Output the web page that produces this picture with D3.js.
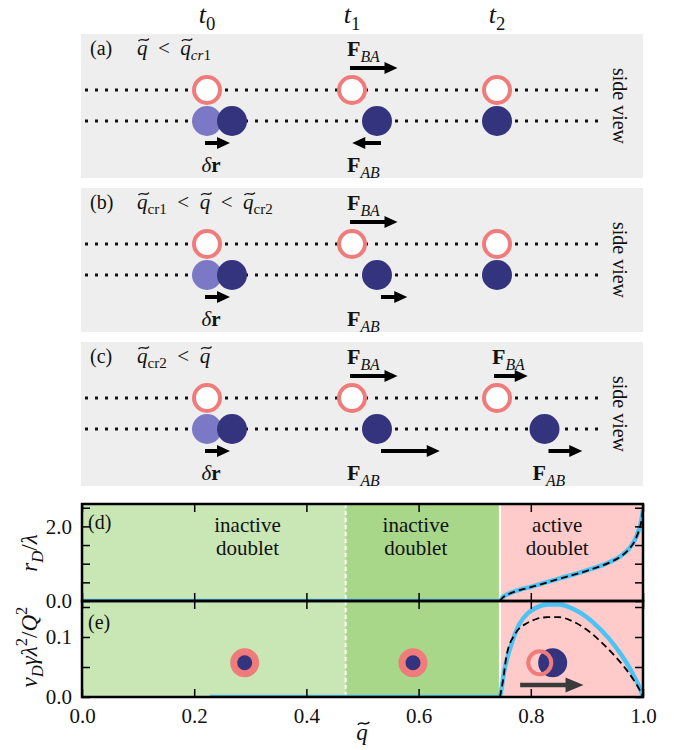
<!DOCTYPE html>
<html>
<head>
<meta charset="utf-8">
<script src="https://cdn.jsdelivr.net/npm/d3@7"></script>
<style>
  html, body { margin: 0; padding: 0; background: #fff; }
  svg { display: block; }
  text { font-family: "Liberation Serif", "Times New Roman", serif; fill: #111; }
</style>
</head>
<body>
<svg id="fig" width="674" height="750"></svg>
<script>
// ---------------- schematic (a)-(c) ----------------
const timeSteps = ['0', '1', '2'];
const panelIds = ['(a)', '(b)', '(c)'];
const conditionText = [
  [{s: 'q', i: 1, tilde: 1}, {s: '\u2002<\u2002'}, {s: 'q', i: 1, tilde: 1}, {s: 'cr', i: 1, sub: 1}, {s: '1', sub: 1}],
  [{s: 'q', i: 1, tilde: 1}, {s: 'cr1', sub: 1}, {s: '\u2002<\u2002'}, {s: 'q', i: 1, tilde: 1},
   {s: '\u2002<\u2002'}, {s: 'q', i: 1, tilde: 1}, {s: 'cr2', sub: 1}],
  [{s: 'q', i: 1, tilde: 1}, {s: 'cr2', sub: 1}, {s: '\u2002<\u2002'}, {s: 'q', i: 1, tilde: 1}]
];
// position of particle B relative to A, in units of the initial kick δr, at t0, t1, t2
const bOffset = [[1, 1, 0], [1, 1, 0], [1, 1, 1.9]];
// force on A (F_BA) and on B (F_AB) at t1 and t2, in the same units (0 = no arrow)
const forceBA = [[1.9, 0], [1.9, 0], [1.9, 1.35]];
const forceAB = [[-1.15, 0], [1.05, 0], [2.35, 1.35]];

// ---------------- plots (d), (e) ----------------
const qTicks = [0, 0.2, 0.4, 0.6, 0.8, 1.0];
const rTicks = [0, 0.5, 1.0, 1.5, 2.0, 2.5];
const rTickLabels = [0, 2.0];
const vTicks = [0, 0.05, 0.1, 0.15];
const vTickLabels = [0, 0.1];
const qCr1 = 0.47;
const qCr2 = 0.745;

// doublet separation r_D / lambda
const rSimQ = [0, 0.745, 0.75, 0.76, 0.78, 0.80, 0.85, 0.90, 0.94, 0.96, 0.975, 0.985, 0.992, 0.997, 1.0];
const rSimV = [0, 0, 0.1, 0.19, 0.3, 0.38, 0.6, 0.82, 1.04, 1.2, 1.4, 1.62, 1.88, 2.15, 2.45];
const rTheoQ = [0.745, 0.75, 0.76, 0.78, 0.80, 0.85, 0.90, 0.94, 0.96, 0.975, 0.985, 0.992, 0.997, 1.0];
const rTheoV = [0, 0.09, 0.18, 0.29, 0.37, 0.59, 0.81, 1.03, 1.19, 1.39, 1.6, 1.86, 2.13, 2.45];
// doublet velocity v_D gamma lambda^2 / Q^2
const vSimQ = [0.228, 0.745, 0.748, 0.752, 0.758, 0.768, 0.78, 0.795, 0.81, 0.83, 0.85, 0.875, 0.9, 0.925, 0.95, 0.97, 0.985, 0.995, 1.0];
const vSimV = [0, 0, 0.015, 0.04, 0.065, 0.095, 0.122, 0.14, 0.149, 0.154, 0.154, 0.147, 0.133, 0.112, 0.085, 0.058, 0.033, 0.013, 0];
const vTheoQ = [0.745, 0.75, 0.757, 0.772, 0.793, 0.81, 0.83, 0.85, 0.875, 0.9, 0.925, 0.95, 0.97, 0.985, 0.995, 1.0];
const vTheoV = [0, 0.025, 0.07, 0.105, 0.123, 0.13, 0.133, 0.133, 0.126, 0.112, 0.092, 0.068, 0.046, 0.026, 0.01, 0];

const phaseNames = [['inactive', 'doublet'], ['inactive', 'doublet'], ['active', 'doublet']];
const phaseLabelQ = [0.295, 0.595, 0.847];

// ---------------- drawing ----------------
const INK = '#111';
const RED = '#f07b7b', BLUE_DARK = '#34347e', BLUE_LIGHT = '#7b78c6', PANEL_BG = '#eeeeee';
const GREEN_LIGHT = '#c8e7b4', GREEN_MID = '#a9d78a', PINK = '#ffcaca', SKY = '#4cc3f5';

const svg = d3.select('#fig');

// text with italic / bold runs, sub- and superscripts and wide tildes
function mathText(parent, x, y, parts, opt = {}) {
  const size = opt.size || 21, sc = opt.subScale || 0.72;
  const t = parent.append('text').attr('x', x).attr('y', y)
    .attr('text-anchor', opt.anchor || 'start').style('font-size', size + 'px');
  let level = 0, idx = 0;
  const marks = [];
  parts.forEach(p => {
    const target = p.sub ? size * 0.26 : p.sup ? -size * 0.42 : 0;
    const ts = t.append('tspan').text(p.s).attr('dy', target - level)
      .style('font-size', (p.sub || p.sup ? size * sc : size) + 'px');
    level = target;
    if (p.i) ts.style('font-style', 'italic');
    if (p.b) ts.style('font-weight', 'bold');
    if (p.tilde) marks.push(idx);
    idx += p.s.length;
  });
  const node = t.node();
  marks.forEach(i => {
    const a = node.getStartPositionOfChar(i), b = node.getEndPositionOfChar(i);
    const cx = (a.x + b.x) / 2 + size * 0.07, cy = a.y - size * 0.72;
    const w = size * 0.5, h = size * 0.06;
    parent.append('path')
      .attr('d', `M${cx - w / 2},${cy + h} C${cx - w / 6},${cy - h * 2.6} ${cx + w / 6},${cy + h * 2.6} ${cx + w / 2},${cy - h}`)
      .attr('fill', 'none').attr('stroke', INK).attr('stroke-width', size * 0.065);
  });
  return t;
}

function arrowD(x0, x1, y, shaft = 4, head = 13, half = 6) {
  const dir = Math.sign(x1 - x0) || 1;
  const xb = x1 - dir * head;
  return `M${x0},${y - shaft / 2}L${xb},${y - shaft / 2}L${xb},${y - half}L${x1},${y}` +
         `L${xb},${y + half}L${xb},${y + shaft / 2}L${x0},${y + shaft / 2}Z`;
}

const F = sub => [{s: 'F', b: 1}, {s: sub, i: 1, sub: 1}];

const panelY = d3.scaleBand().domain(panelIds).range([34, 486]).paddingInner(0.065);
const colX = d3.scalePoint().domain(timeSteps).range([207, 497]);
const shift = d3.scaleLinear().domain([0, 1]).range([0, 25]);

timeSteps.forEach(t =>
  mathText(svg, colX(t), 23, [{s: 't', i: 1}, {s: t, sub: 1}], {size: 26, anchor: 'middle'}));

panelIds.forEach((id, k) => {
  const top = panelY(id), h = panelY.bandwidth();
  const g = svg.append('g');
  g.append('rect').attr('x', 81).attr('y', top).attr('width', 562).attr('height', h).attr('fill', PANEL_BG);
  const yA = top + 56, yB = top + 87;
  [yA, yB].forEach(y => g.append('line').attr('x1', 85).attr('x2', 604).attr('y1', y).attr('y2', y)
    .attr('stroke', INK).attr('stroke-width', 3).attr('stroke-dasharray', '3,7'));

  mathText(g, 90, top + 21, [{s: id}], {size: 20});
  mathText(g, 137, top + 21, conditionText[k], {size: 21});

  g.append('g').attr('transform', `translate(613,${top + h / 2}) rotate(90)`)
    .append('text').attr('text-anchor', 'middle').style('font-size', '20px').text('side view');

  // initial position of B before the kick
  g.append('circle').attr('cx', colX('0')).attr('cy', yB).attr('r', 15).attr('fill', BLUE_LIGHT);
  timeSteps.forEach((t, j) => {
    const cx = colX(t);
    g.append('circle').attr('cx', cx + shift(bOffset[k][j])).attr('cy', yB).attr('r', 15).attr('fill', BLUE_DARK);
    g.append('circle').attr('cx', cx).attr('cy', yA).attr('r', 13)
      .attr('fill', '#fff').attr('stroke', RED).attr('stroke-width', 4);
  });

  // kick δr
  const yLow = top + 109, yHigh = top + 34;
  g.append('path').attr('d', arrowD(colX('0') - 2, colX('0') - 2 + shift(1), yLow)).attr('fill', '#000');
  mathText(g, colX('0') + 4, top + 138, [{s: 'δ', i: 1}, {s: 'r', b: 1}], {size: 21, anchor: 'middle'});

  ['1', '2'].forEach((t, j) => {
    const cx = colX(t);
    const bx = cx + shift(bOffset[k][j + 1]);
    if (forceBA[k][j]) {
      const x0 = cx - 2 - j;
      g.append('path').attr('d', arrowD(x0, x0 + shift(forceBA[k][j]), yHigh)).attr('fill', '#000');
      mathText(g, cx - 5, top + 22, F('BA'), {size: 22});
    }
    if (forceAB[k][j]) {
      const x0 = bx + 4;
      g.append('path').attr('d', arrowD(x0, x0 + shift(forceAB[k][j]), yLow)).attr('fill', '#000');
      mathText(g, j === 0 ? cx - 5 : bx - 12, top + 138, F('AB'), {size: 22});
    }
  });
});

// ---------------- (d) and (e) ----------------
const q = d3.scaleLinear().domain([0, 1]).range([82, 643]);
const yR = d3.scaleLinear().domain([0, 2.6]).range([601, 504]);
const yV = d3.scaleLinear().domain([0, 0.16]).range([697, 601]);

const plots = [
  {id: 'd', y: yR, ticks: rTicks, labels: rTickLabels, sim: [rSimQ, rSimV], theo: [rTheoQ, rTheoV]},
  {id: 'e', y: yV, ticks: vTicks, labels: vTickLabels, sim: [vSimQ, vSimV], theo: [vTheoQ, vTheoV]}
];

const defs = svg.append('defs');
plots.forEach(p => {
  const [y0, y1] = [p.y.range()[1], p.y.range()[0]];
  defs.append('clipPath').attr('id', 'clip-' + p.id).append('rect')
    .attr('x', q(0)).attr('y', y0).attr('width', q(1) - q(0)).attr('height', y1 - y0);
});

const fmt = d3.format('.1f');
plots.forEach(p => {
  const top = p.y.range()[1], bot = p.y.range()[0], hgt = bot - top;
  const g = svg.append('g');
  // phase regions
  [[0, qCr1, GREEN_LIGHT], [qCr1, qCr2, GREEN_MID], [qCr2, 1, PINK]].forEach(([a, b, c]) =>
    g.append('rect').attr('x', q(a)).attr('y', top).attr('width', q(b) - q(a)).attr('height', hgt).attr('fill', c));
  g.append('line').attr('x1', q(qCr1)).attr('x2', q(qCr1)).attr('y1', top).attr('y2', bot)
    .attr('stroke', '#fff').attr('stroke-width', 2).attr('stroke-dasharray', '4,3');
  g.append('line').attr('x1', q(qCr2)).attr('x2', q(qCr2)).attr('y1', top).attr('y2', bot)
    .attr('stroke', '#fff').attr('stroke-width', 2);

  const line = d3.line().x(d => q(d[0])).y(d => p.y(d[1])).curve(d3.curveMonotoneX);
  const cg = g.append('g').attr('clip-path', `url(#clip-${p.id})`);
  cg.append('path').datum(d3.zip(...p.sim)).attr('d', line)
    .attr('fill', 'none').attr('stroke', SKY).attr('stroke-width', 4.5);
  cg.append('path').datum(d3.zip(...p.theo)).attr('d', line)
    .attr('fill', 'none').attr('stroke', '#000').attr('stroke-width', 1.8).attr('stroke-dasharray', '7,4');
});

// phase names in (d)
phaseNames.forEach((lines, i) => lines.forEach((s, j) =>
  svg.append('text').attr('x', q(phaseLabelQ[i])).attr('y', 532 + j * 23)
    .attr('text-anchor', 'middle').style('font-size', '21px').text(s)));

svg.append('text').attr('x', 88).attr('y', 529).style('font-size', '20px').text('(d)');
svg.append('text').attr('x', 88).attr('y', 629).style('font-size', '20px').text('(e)');

// doublet sketches in (e)
[0.29, 0.59].forEach(x => {
  svg.append('circle').attr('cx', q(x)).attr('cy', yV(0.057)).attr('r', 14.5).attr('fill', RED);
  svg.append('circle').attr('cx', q(x)).attr('cy', yV(0.057)).attr('r', 7.5).attr('fill', BLUE_DARK);
});
svg.append('circle').attr('cx', q(0.839)).attr('cy', yV(0.057)).attr('r', 14.5).attr('fill', BLUE_DARK);
svg.append('circle').attr('cx', q(0.816)).attr('cy', yV(0.057)).attr('r', 11.5)
  .attr('fill', 'none').attr('stroke', RED).attr('stroke-width', 4);
svg.append('path').attr('d', arrowD(q(0.781), q(0.894), yV(0.02), 4.5, 18, 7.5)).attr('fill', '#3a3a3a');

// frames and ticks
plots.forEach(p => {
  const top = p.y.range()[1], bot = p.y.range()[0];
  const styleAxis = (sel, size) => {
    sel.select('.domain').remove();
    sel.attr('font-family', null).attr('font-size', null);
    sel.selectAll('.tick line').attr('stroke', '#000').attr('stroke-width', 1.5);
    sel.selectAll('.tick text').style('font-size', size + 'px').attr('fill', INK);
  };
  svg.append('g').attr('transform', `translate(${q(0)},0)`)
    .call(d3.axisLeft(p.y).tickValues(p.ticks).tickSizeInner(-8).tickSizeOuter(0).tickPadding(10)
      .tickFormat(d => p.labels.includes(d) ? fmt(d) : ''))
    .call(s => styleAxis(s, 21));
  svg.append('g').attr('transform', `translate(${q(1)},0)`)
    .call(d3.axisRight(p.y).tickValues(p.ticks).tickSizeInner(-8).tickSizeOuter(0).tickFormat(''))
    .call(s => styleAxis(s, 21));
  svg.append('g').attr('transform', `translate(0,${top})`)
    .call(d3.axisTop(q).tickValues(qTicks).tickSizeInner(-8).tickSizeOuter(0).tickFormat(''))
    .call(s => styleAxis(s, 21));
  svg.append('g').attr('transform', `translate(0,${bot})`)
    .call(d3.axisBottom(q).tickValues(qTicks).tickSizeInner(-8).tickSizeOuter(0).tickPadding(11)
      .tickFormat(p.id === 'e' ? fmt : ''))
    .call(s => styleAxis(s, 21));
  svg.append('rect').attr('x', q(0)).attr('y', top).attr('width', q(1) - q(0)).attr('height', bot - top)
    .attr('fill', 'none').attr('stroke', '#000').attr('stroke-width', 2.5);
});

// axis titles
const yt1 = svg.append('g').attr('transform', 'translate(37,553) rotate(-90)');
mathText(yt1, 0, 0, [{s: 'r', i: 1}, {s: 'D', i: 1, sub: 1}, {s: '/'}, {s: 'λ', i: 1}], {size: 23, anchor: 'middle'});
const yt2 = svg.append('g').attr('transform', 'translate(37,647) rotate(-90)');
mathText(yt2, 0, 0, [{s: 'v', i: 1}, {s: 'D', i: 1, sub: 1}, {s: 'γλ', i: 1}, {s: '2', sup: 1},
  {s: '/'}, {s: 'Q', i: 1}, {s: '2', sup: 1}], {size: 23, anchor: 'middle'});
mathText(svg, 362, 740, [{s: 'q', i: 1, tilde: 1}], {size: 23, anchor: 'middle'});
</script>
</body>
</html>
